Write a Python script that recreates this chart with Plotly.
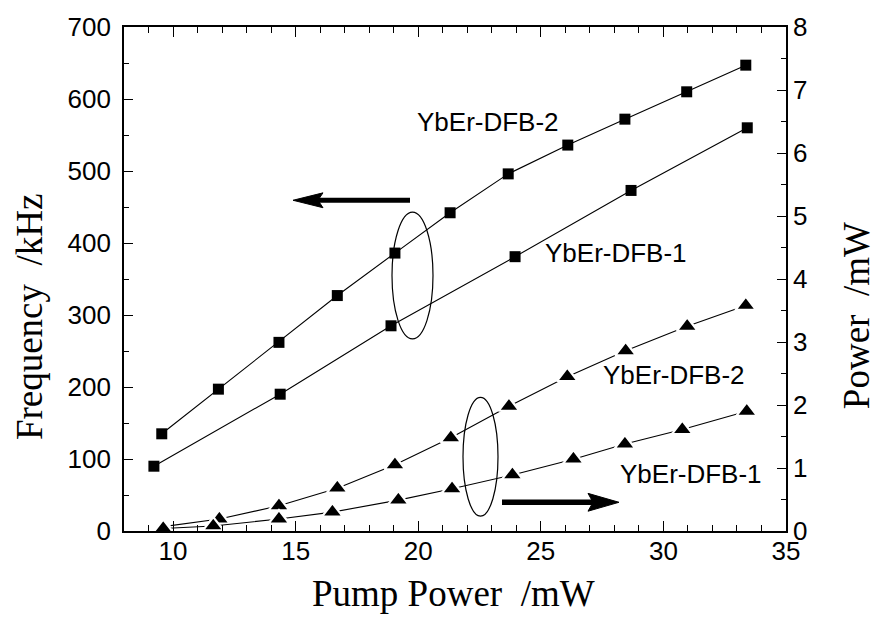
import plotly.graph_objects as go

# ---------------- data ----------------
pump_f1 = [9.22, 14.37, 18.89, 23.95, 28.68, 33.42]
freq_f1 = [90, 190, 285, 381, 473, 560]
pump_f2 = [9.54, 11.85, 14.32, 16.70, 19.05, 21.30, 23.67, 26.10, 28.43, 30.95, 33.36]
freq_f2 = [135, 197, 262, 327, 386, 442, 496, 536, 572, 610, 647]

pump_p2 = [9.60, 11.89, 14.32, 16.70, 19.05, 21.33, 23.70, 26.08, 28.46, 30.97, 33.36]
power_p2 = [0.07, 0.19, 0.40, 0.68, 1.05, 1.48, 1.98, 2.45, 2.86, 3.25, 3.58]
pump_p1 = [9.60, 11.64, 14.32, 16.50, 19.19, 21.38, 23.84, 26.33, 28.43, 30.77, 33.40]
power_p1 = [0.04, 0.08, 0.19, 0.30, 0.49, 0.67, 0.89, 1.14, 1.38, 1.61, 1.90]

x_ticks = [10, 15, 20, 25, 30, 35]
y_ticks = [0, 100, 200, 300, 400, 500, 600, 700]
y2_ticks = [0, 1, 2, 3, 4, 5, 6, 7, 8]

# ---------------- layout geometry (pixels) ----------------
W, H = 880, 624
L, R, T, B = 124, 786, 22, 531


def fx(px):
    return (px - L) / (R - L)


def fy(py):
    return (B - py) / (B - T)


SANS = "Liberation Sans, Arial, sans-serif"
SERIF = "Liberation Serif, Times New Roman, serif"

fig = go.Figure()

sq = dict(symbol="square", size=11, color="black")
tri = dict(symbol="triangle-up", size=18, color="black",
           line=dict(color="white", width=2.2))
ln = dict(color="black", width=1.1)

fig.add_trace(go.Scatter(x=pump_f2, y=freq_f2, mode="lines+markers",
                         marker=sq, line=ln, name="YbEr-DFB-2 freq"))
fig.add_trace(go.Scatter(x=pump_f1, y=freq_f1, mode="lines+markers",
                         marker=sq, line=ln, name="YbEr-DFB-1 freq"))
fig.add_trace(go.Scatter(x=pump_p2, y=power_p2, mode="lines+markers",
                         marker=tri, line=ln, yaxis="y2", name="YbEr-DFB-2 power"))
fig.add_trace(go.Scatter(x=pump_p1, y=power_p1, mode="lines+markers",
                         marker=tri, line=ln, yaxis="y2", name="YbEr-DFB-1 power"))

axis_common = dict(showline=True, linecolor="black", linewidth=1.6,
                   ticks="inside", tickcolor="black", tickwidth=1.4,
                   showgrid=False, zeroline=False,
                   tickfont=dict(family=SANS, size=26, color="black"))

fig.update_layout(
    width=W, height=H,
    margin=dict(l=L, r=W - R, t=T, b=H - B),
    paper_bgcolor="white", plot_bgcolor="white",
    showlegend=False,
    xaxis=dict(range=[8, 35], tickvals=x_ticks, ticklen=10, mirror="ticks",
               ticklabelstandoff=-4,
               minor=dict(dtick=1, ticklen=6, ticks="inside", tickcolor="black", tickwidth=1.2),
               **axis_common),
    yaxis=dict(range=[0, 700], tickvals=y_ticks, ticklen=9, ticklabelstandoff=6,
               minor=dict(dtick=50, ticklen=5, ticks="inside", tickcolor="black", tickwidth=1.2),
               **axis_common),
    yaxis2=dict(range=[0, 8], tickvals=y2_ticks, ticklen=9, overlaying="y", side="right",
                minor=dict(dtick=0.5, ticklen=5, ticks="inside", tickcolor="black", tickwidth=1.2),
                **axis_common),
)


def note(text, px, py, font, angle=0):
    fig.add_annotation(text=text, x=fx(px), y=fy(py), xref="paper", yref="paper",
                       xanchor="center", yanchor="middle", showarrow=False,
                       textangle=angle, font=font)


title_font = dict(family=SERIF, size=37, color="black")
label_font = dict(family=SANS, size=26, color="black")

# axis titles
note("Pump Power  /mW", 453, 594, title_font)
note("Frequency  /kHz", 29, 315, title_font, -90)
note("Power  /mW", 856, 313, title_font, -90)

# curve labels
labels = [("YbEr-DFB-2", 488, 118), ("YbEr-DFB-1", 616, 250),
          ("YbEr-DFB-2", 674, 373), ("YbEr-DFB-1", 691, 473)]
for txt, px, py in labels:
    note(txt, px, py, label_font)

# ellipses
for x0, x1, y0, y1 in [(392, 433, 209, 337), (463, 498, 396, 516)]:
    fig.add_shape(type="circle", xref="paper", yref="paper",
                  x0=fx(x0), x1=fx(x1), y0=fy(y1), y1=fy(y0),
                  line=dict(color="black", width=1.2))


def path(points):
    return "M " + " L ".join(f"{fx(a):.5f},{fy(b):.5f}" for a, b in points) + " Z"


# left-pointing arrow (frequency axis)
fig.add_shape(type="line", xref="paper", yref="paper", x0=fx(316), x1=fx(410), y0=fy(197), y1=fy(197),
              line=dict(color="black", width=5))
fig.add_shape(type="path", xref="paper", yref="paper",
              path=path([(293, 197), (323, 189.5), (318, 197), (323, 204.5)]),
              fillcolor="black", line=dict(color="black", width=1))
# right-pointing arrow (power axis)
fig.add_shape(type="line", xref="paper", yref="paper", x0=fx(502), x1=fx(594), y0=fy(502), y1=fy(502),
              line=dict(color="black", width=5.5))
fig.add_shape(type="path", xref="paper", yref="paper",
              path=path([(619, 502), (588, 493), (593, 502), (588, 511)]),
              fillcolor="black", line=dict(color="black", width=1))

fig.write_html("out.html")
